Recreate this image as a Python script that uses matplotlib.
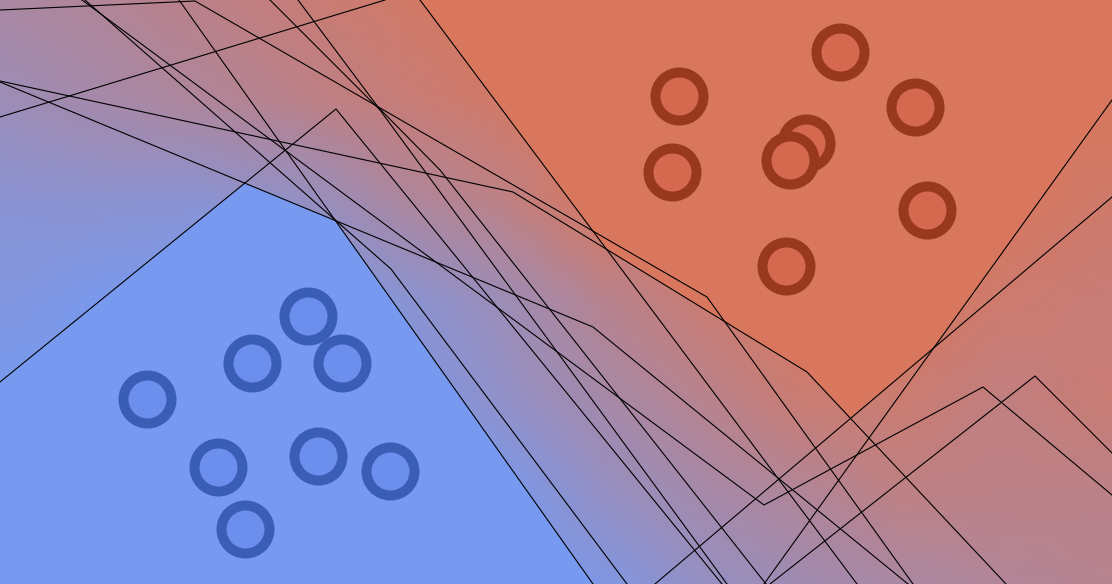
import matplotlib
matplotlib.use("Agg")
import matplotlib.pyplot as plt
import numpy as np
from matplotlib.colors import LinearSegmentedColormap

grid_x = [0, 100, 200, 300, 400, 500, 600, 700, 800, 900, 1000, 1112]
grid_y = [0, 100, 200, 300, 400, 500, 584]
field = [
    [0.52, 0.60, 0.70, 0.82, 0.92, 1.00, 1.00, 1.00, 1.00, 1.00, 1.00, 1.00],
    [0.38, 0.48, 0.58, 0.70, 0.82, 0.93, 1.00, 1.00, 1.00, 1.00, 1.00, 1.00],
    [0.20, 0.22, 0.20, 0.30, 0.55, 0.72, 1.00, 1.00, 1.00, 1.00, 1.00, 0.90],
    [0.12, 0.03, 0.00, 0.00, 0.18, 0.38, 0.65, 0.85, 1.00, 1.00, 0.88, 0.82],
    [0.00, 0.00, 0.00, 0.00, 0.05, 0.26, 0.48, 0.66, 0.85, 0.86, 0.76, 0.84],
    [0.00, 0.00, 0.00, 0.00, 0.00, 0.00, 0.28, 0.46, 0.58, 0.72, 0.70, 0.70],
    [0.00, 0.00, 0.00, 0.00, 0.00, 0.00, 0.08, 0.30, 0.42, 0.52, 0.60, 0.65],
]

# saturated regions
blue_flat_x = [0, 0, 245, 335, 593]
blue_flat_y = [584, 382, 183, 220, 584]
orange_flat_x = [420, 1112, 1112, 934, 850, 807, 606]
orange_flat_y = [0, 0, 100, 348, 418, 372, 249]

# hidden unit boundaries (polylines)
boundaries = [
    ([0, 195, 707, 913], [10, 1, 297, 584]),
    ([0, 513, 807, 1006], [81, 192, 372, 584]),
    ([0, 385], [117, 0]),
    ([420, 857], [0, 584]),
    ([0, 336, 722], [382, 109, 584]),
    ([179, 593], [0, 584]),
    ([1112, 764], [100, 584]),
    ([1112, 655], [197, 584]),
    ([0, 593, 908], [82, 327, 584]),
    ([82, 764, 983, 1112], [0, 505, 387, 495]),
    ([85, 391, 627], [0, 269, 584]),
    ([270, 380, 727], [0, 110, 584]),
    ([298, 378, 440, 766], [0, 107, 170, 584]),
    ([770, 1035, 1112], [584, 376, 453]),
]

# data points
blue_x = [308, 252, 342, 147, 218, 318, 390, 245]
blue_y = [316, 363, 363, 399, 467, 456, 471, 529]
orange_x = [840, 679, 915, 806, 790, 672, 927, 786]
orange_y = [52, 96, 107, 143, 160, 172, 210, 266]

BLUE = '#779af0'
ORANGE = '#d8775d'
cmap = LinearSegmentedColormap.from_list('bo', [BLUE, ORANGE])

fig = plt.figure(figsize=(11.12, 5.84), dpi=100)
ax = fig.add_axes([0, 0, 1, 1])

X, Y = np.meshgrid(grid_x, grid_y)
ax.pcolormesh(X, Y, np.array(field), cmap=cmap, vmin=0, vmax=1, shading='gouraud')
ax.fill(blue_flat_x, blue_flat_y, color=BLUE, lw=0)
ax.fill(orange_flat_x, orange_flat_y, color=ORANGE, lw=0)

for bx, by in boundaries:
    ax.plot(bx, by, color='black', lw=0.8)

ax.scatter(blue_x, blue_y, s=1195, facecolors='#6c8eec', edgecolors='#3a5db6', linewidths=7.2, zorder=3)
ax.scatter(orange_x, orange_y, s=1195, facecolors='#d5694f', edgecolors='#98381e', linewidths=7.2, zorder=3)

ax.set_xlim(0, 1112)
ax.set_ylim(584, 0)
ax.axis('off')

fig.savefig('out.png', dpi=100)
